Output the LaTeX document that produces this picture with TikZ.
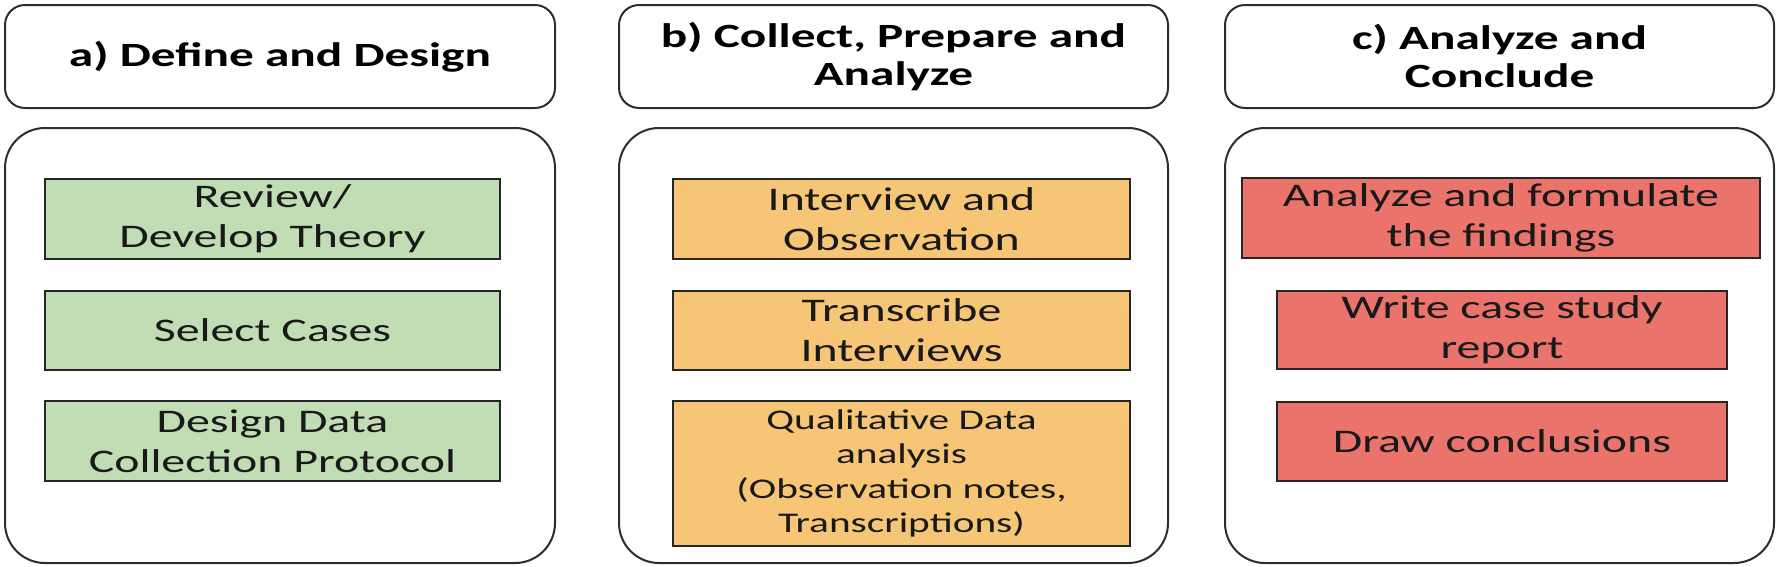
\documentclass[tikz,border=0pt]{standalone}
\usepackage{fontspec}
\setmainfont{Carlito}[FakeStretch=1.45]
\definecolor{boxgreen}{RGB}{192,221,180}
\definecolor{boxorange}{RGB}{246,198,118}
\definecolor{boxred}{RGB}{234,115,108}
\definecolor{frame}{RGB}{45,45,45}
\tikzset{
  header/.style={draw=frame, line width=2pt, rounded corners=20pt, fill=white,
    minimum height=103pt, inner sep=0pt, align=center,
    font=\bfseries\fontsize{34}{38}\selectfont},
  panel/.style={draw=frame, line width=2pt, rounded corners=40pt, fill=white,
    minimum height=435pt, inner sep=0pt},
  stepbox/.style={draw=black!85, line width=2pt, inner sep=0pt, align=center,
    text=black!90, font=\fontsize{33}{40}\selectfont},
  gbox/.style={stepbox, fill=boxgreen},
  obox/.style={stepbox, fill=boxorange},
  rbox/.style={stepbox, fill=boxred}
}
\begin{document}
\begin{tikzpicture}[x=1pt,y=-1pt]
\useasboundingbox (0,0) rectangle (1778,566);
% headers
\node[header, minimum width=550pt] (ha) at (280,56.5) {a) Define and Design};
\node[header, minimum width=549pt] (hb) at (893.5,56.5) {b) Collect, Prepare and\\Analyze};
\node[header, minimum width=549pt] (hc) at (1499.5,56.5) {c) Analyze and\\Conclude};
% panels
\node[panel, minimum width=550pt] (pa) at (280,345.5) {};
\node[panel, minimum width=549pt] (pb) at (893.5,345.5) {};
\node[panel, minimum width=549pt] (pc) at (1499.5,345.5) {};
% column a
\node[gbox, minimum width=455pt, minimum height=80pt] (a1) at (272.5,219) {Review/\\Develop Theory};
\node[gbox, minimum width=455pt, minimum height=79pt] (a2) at (272.5,330.5) {Select Cases};
\node[gbox, minimum width=455pt, minimum height=80pt] (a3) at (272.5,441) {Design Data\\Collection Protocol};
% column b
\node[obox, minimum width=457pt, minimum height=80pt] (b1) at (901.5,219) {Interview and\\Observation};
\node[obox, minimum width=457pt, minimum height=79pt] (b2) at (901.5,330.5) {Transcribe\\Interviews};
\node[obox, minimum width=457pt, minimum height=145pt, font=\fontsize{28.5}{34.5}\selectfont] (b3) at (901.5,473.5) {Qualitative Data\\analysis\\(Observation notes,\\Transcriptions)};
% column c
\node[rbox, minimum width=518pt, minimum height=80pt] (c1) at (1501,218) {Analyze and formulate\\the findings};
\node[rbox, minimum width=450pt, minimum height=78pt] (c2) at (1502,330) {Write case study\\report};
\node[rbox, minimum width=450pt, minimum height=79pt] (c3) at (1502,441.5) {Draw conclusions};
\end{tikzpicture}
\end{document}
